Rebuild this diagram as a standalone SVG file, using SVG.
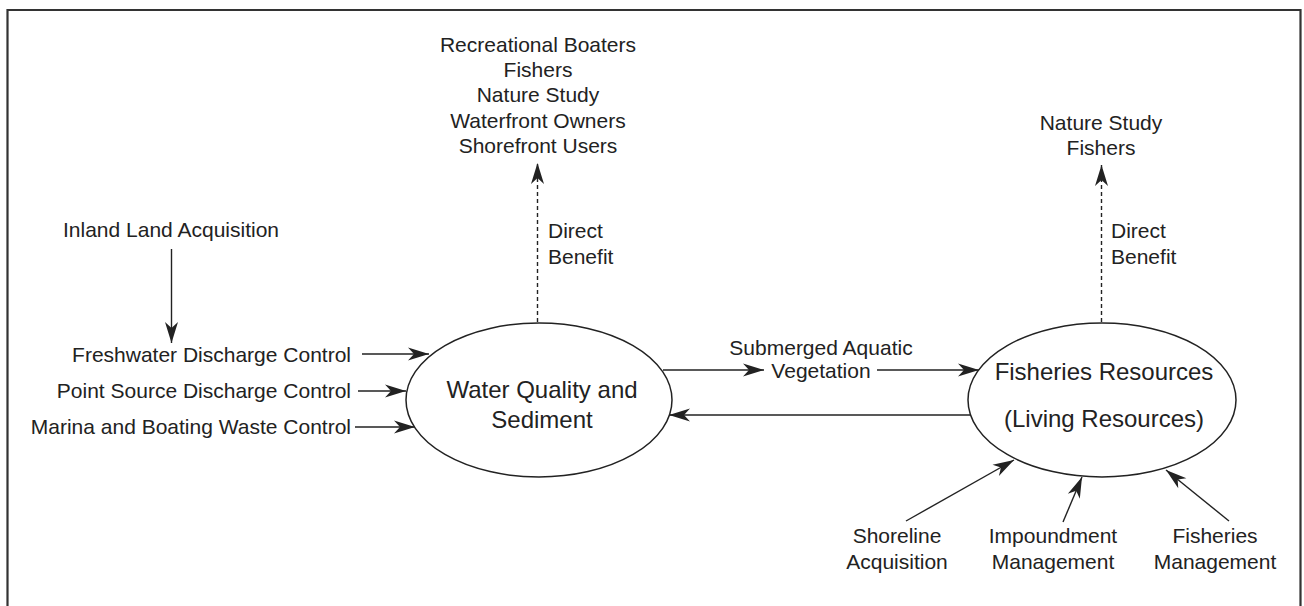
<svg xmlns="http://www.w3.org/2000/svg" width="1304" height="606" viewBox="0 0 1304 606">
  <style>
    text { font-family: "Liberation Sans", Arial, sans-serif; font-size: 21px; fill: #222; }
    .big { font-size: 24px; }
    .mid { text-anchor: middle; }
    .end { text-anchor: end; }
    .node { fill: #fff; stroke: #222; stroke-width: 1.5; }
    .link { fill: none; stroke: #222; stroke-width: 1.4; marker-end: url(#head); }
    .dash { stroke-dasharray: 4 3; }
    .frame { fill: none; stroke: #333; stroke-width: 2.2; }
  </style>
  <defs>
    <!-- barbed arrowhead, tip at the marker origin -->
    <marker id="head" markerUnits="userSpaceOnUse" markerWidth="24" markerHeight="16" viewBox="-22 -8 23 16" refX="0" refY="0" orient="auto">
      <path d="M0,0 L-21,-6.5 L-15,0 L-21,6.5 Z" fill="#222"/>
    </marker>
  </defs>

  <!-- frame, open at the bottom -->
  <path class="frame" d="M7.5,606 V10 H1300.5 V606"/>

  <!-- connectors -->
  <g id="connectors">
    <line class="link" x1="171.5" y1="249" x2="171.5" y2="343"/>
    <line class="link" x1="362" y1="354" x2="429" y2="354"/>
    <line class="link" x1="358" y1="391" x2="406" y2="391"/>
    <line class="link" x1="355" y1="427" x2="415" y2="427"/>
    <line class="link dash" x1="537.5" y1="322" x2="537.5" y2="163"/>
    <line class="link dash" x1="1101.5" y1="322" x2="1101.5" y2="165"/>
    <line class="link" x1="663" y1="370" x2="764" y2="370"/>
    <line class="link" x1="877" y1="370" x2="979" y2="370"/>
    <line class="link" x1="972" y1="415" x2="669" y2="415"/>
    <line class="link" x1="906" y1="521" x2="1014" y2="460"/>
    <line class="link" x1="1063" y1="522" x2="1082" y2="477"/>
    <line class="link" x1="1229" y1="521" x2="1166" y2="470"/>
  </g>

  <!-- central nodes -->
  <g id="water-quality">
    <ellipse class="node" cx="539" cy="400" rx="133" ry="77"/>
    <text class="big mid" x="542" y="398">Water Quality and</text>
    <text class="big mid" x="542" y="428">Sediment</text>
  </g>
  <g id="fisheries">
    <ellipse class="node" cx="1102" cy="400" rx="134" ry="77"/>
    <text class="big mid" x="1104" y="380">Fisheries Resources</text>
    <text class="big mid" x="1104" y="427">(Living Resources)</text>
  </g>

  <!-- inputs and beneficiaries -->
  <g id="inland-land">
    <text class="mid" x="171" y="237">Inland Land Acquisition</text>
  </g>
  <g id="freshwater">
    <text class="end" x="351" y="362">Freshwater Discharge Control</text>
  </g>
  <g id="point-source">
    <text class="end" x="351" y="398">Point Source Discharge Control</text>
  </g>
  <g id="marina">
    <text class="end" x="351" y="434">Marina and Boating Waste Control</text>
  </g>
  <g id="users-wq">
    <text class="mid" x="538" y="52">Recreational Boaters</text>
    <text class="mid" x="538" y="77">Fishers</text>
    <text class="mid" x="538" y="102">Nature Study</text>
    <text class="mid" x="538" y="128">Waterfront Owners</text>
    <text class="mid" x="538" y="153">Shorefront Users</text>
  </g>
  <g id="benefit-wq">
    <text x="548" y="238">Direct</text>
    <text x="548" y="264">Benefit</text>
  </g>
  <g id="users-fish">
    <text class="mid" x="1101" y="130">Nature Study</text>
    <text class="mid" x="1101" y="155">Fishers</text>
  </g>
  <g id="benefit-fish">
    <text x="1111" y="238">Direct</text>
    <text x="1111" y="264">Benefit</text>
  </g>
  <g id="sav">
    <text class="mid" x="821" y="355">Submerged Aquatic</text>
    <text class="mid" x="821" y="378">Vegetation</text>
  </g>
  <g id="shoreline">
    <text class="mid" x="897" y="543">Shoreline</text>
    <text class="mid" x="897" y="569">Acquisition</text>
  </g>
  <g id="impoundment">
    <text class="mid" x="1053" y="543">Impoundment</text>
    <text class="mid" x="1053" y="569">Management</text>
  </g>
  <g id="fisheries-mgmt">
    <text class="mid" x="1215" y="543">Fisheries</text>
    <text class="mid" x="1215" y="569">Management</text>
  </g>
</svg>
